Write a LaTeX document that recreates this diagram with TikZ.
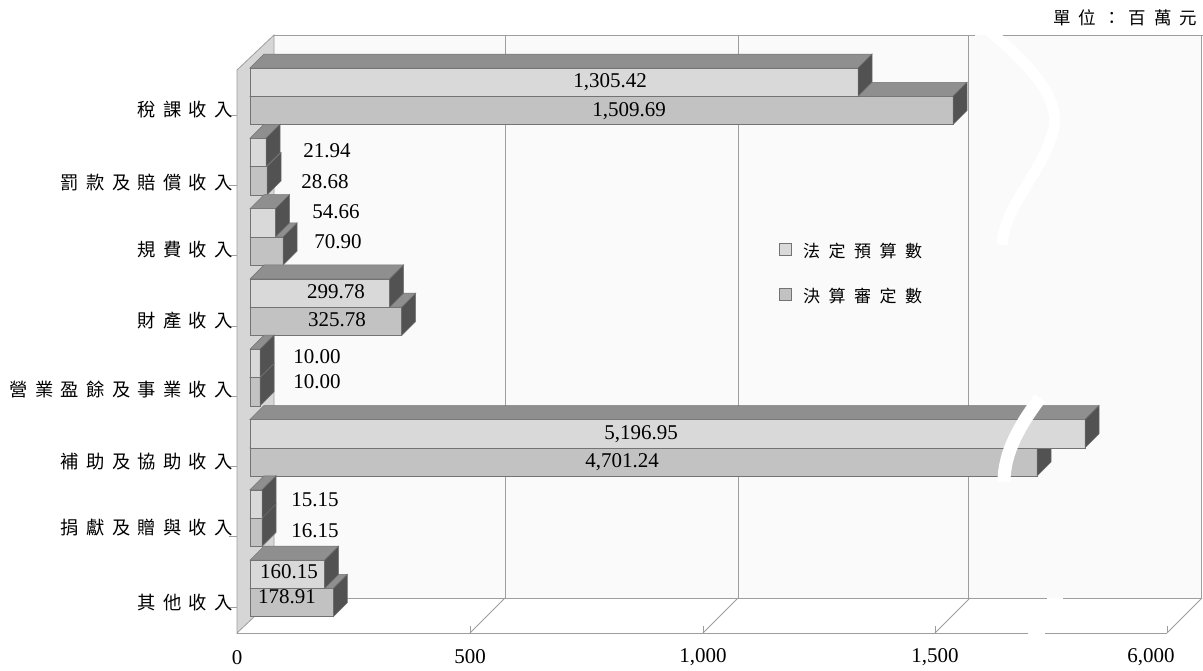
\documentclass[tikz,border=0pt]{standalone}
\usepackage{fontspec}
\setmainfont{Liberation Serif}
\newfontfamily\cjk[LetterSpace=40]{Noto Sans CJK TC}
\newfontfamily\cjkunit[LetterSpace=44]{Noto Sans CJK TC}
\newfontfamily\cjkleg[LetterSpace=50]{Noto Sans CJK TC}
\definecolor{lightc}{gray}{0.85}
\definecolor{darkc}{gray}{0.76}
\definecolor{topc}{gray}{0.56}
\definecolor{sidec}{gray}{0.32}
\definecolor{edgec}{gray}{0.45}
\definecolor{gridc}{gray}{0.62}
\definecolor{wallc}{gray}{0.98}
\definecolor{sidewallc}{gray}{0.84}
\tikzset{
  barface/.style={draw=edgec, line width=0.5pt},
  gridline/.style={draw=gridc, line width=0.8pt},
  numlabel/.style={inner sep=0pt, font=\fontsize{21}{21}\selectfont},
  catlabel/.style={inner sep=0pt, anchor=east, font=\cjk\fontsize{18.3}{18.3}\selectfont},
  leglabel/.style={inner sep=0pt, anchor=west, font=\cjkleg\fontsize{17}{17}\selectfont},
  legbox/.style={draw=edgec, line width=0.6pt, minimum size=12pt, inner sep=0pt},
  breakband/.style={draw=white, line width=13pt}
}
\newcommand\cbar[3]{%
  \filldraw[barface, fill=#3] (250,#1) rectangle (#2,#1+28.3);
  \filldraw[barface, fill=topc] (250,#1) -- (#2,#1) -- (#2+14,#1-14) -- (264,#1-14) -- cycle;
  \filldraw[barface, fill=sidec] (#2,#1) -- (#2+14,#1-14) -- (#2+14,#1+14.3) -- (#2,#1+28.3) -- cycle;
}
\begin{document}
\begin{tikzpicture}[x=1pt,y=-1pt]
\useasboundingbox (0,0) rectangle (1203,670);
% back wall
\fill[wallc] (274,35) rectangle (1202,598);
\draw[gridline] (274,35) -- (975,35);
\draw[gridline] (997,35) -- (1203,35);
\foreach \gx in {505,738,968,1201.5} {\draw[gridline] (\gx,35) -- (\gx,598);}
% white break band on the wall
\draw[breakband, line width=11pt] (988,30) .. controls (1030,65) and (1064,100) .. (1052,135) .. controls (1040,175) and (1005,205) .. (1002,245);
% floor
\fill[white] (237,633) -- (274,598) -- (1202,598) -- (1167,633) -- cycle;
\draw[gridline] (274,598) -- (1047,598);
\draw[gridline] (1063,598) -- (1202,598);
\draw[gridline] (237,633) -- (1028,633);
\draw[gridline] (1045,633) -- (1167,633);
\foreach \gx in {470,703,935,1167} {
  \draw[gridline] (\gx,633) -- (\gx+35,598);
  \draw[gridline] (\gx,633) -- (\gx,626);
}
% left wall
\filldraw[fill=sidewallc, draw=gridc, line width=0.8pt] (237,70) -- (274,35) -- (274,598) -- (237,633) -- cycle;
% bars
\foreach \yt/\xl/\xd in {68/858/953, 138.3/266/267, 208.6/275.5/283, 278.9/389.6/401.7, 349.2/260/260, 419.5/1085/1037, 489.8/262/262, 560.1/324.6/333.3} {
  \cbar{\yt+28.3}{\xd}{darkc}
  \cbar{\yt}{\xl}{lightc}
  \draw[gridline] (229,\yt+47) -- (237,\yt+47);
}
% break across the large bars
\draw[breakband] (1040,398) .. controls (1020,425) and (1004,452) .. (1004,482);
% category labels
\node[catlabel] (c1) at (233,110) {稅課收入};
\node[catlabel] (c2) at (233,183) {罰款及賠償收入};
\node[catlabel] (c3) at (233,250) {規費收入};
\node[catlabel] (c4) at (233,321) {財產收入};
\node[catlabel] (c5) at (233,390) {營業盈餘及事業收入};
\node[catlabel] (c6) at (233,462) {補助及協助收入};
\node[catlabel] (c7) at (233,528) {捐獻及贈與收入};
\node[catlabel] (c8) at (233,603) {其他收入};
% value labels
\node[numlabel] (v1a) at (610,82) {1,305.42};
\node[numlabel] (v1b) at (629,111) {1,509.69};
\node[numlabel] (v2a) at (327,151) {21.94};
\node[numlabel] (v2b) at (325,182) {28.68};
\node[numlabel] (v3a) at (336,212) {54.66};
\node[numlabel] (v3b) at (338,242) {70.90};
\node[numlabel] (v4a) at (336,292) {299.78};
\node[numlabel] (v4b) at (337,320) {325.78};
\node[numlabel] (v5a) at (317,357) {10.00};
\node[numlabel] (v5b) at (317,382) {10.00};
\node[numlabel] (v6a) at (641,434) {5,196.95};
\node[numlabel] (v6b) at (622,462) {4,701.24};
\node[numlabel] (v7a) at (315,500) {15.15};
\node[numlabel] (v7b) at (315,531) {16.15};
\node[numlabel] (v8a) at (289,572) {160.15};
\node[numlabel] (v8b) at (287,597) {178.91};
% axis labels
\node[numlabel] (x0) at (237,658) {0};
\node[numlabel] (x1) at (470,657) {500};
\node[numlabel] (x2) at (703,657) {1,000};
\node[numlabel] (x3) at (935,657) {1,500};
\node[numlabel] (x4) at (1151,657) {6,000};
% legend
\node[legbox, fill=lightc] (lb1) at (785,249) {};
\node[leglabel] (lt1) at (803,251) {法定預算數};
\node[legbox, fill=darkc] (lb2) at (785,294) {};
\node[leglabel] (lt2) at (803,296) {決算審定數};
% unit
\node[inner sep=0pt, anchor=east, font=\cjkunit\fontsize{17.5}{17.5}\selectfont] (unit) at (1197,18) {單位：百萬元};
\end{tikzpicture}
\end{document}
